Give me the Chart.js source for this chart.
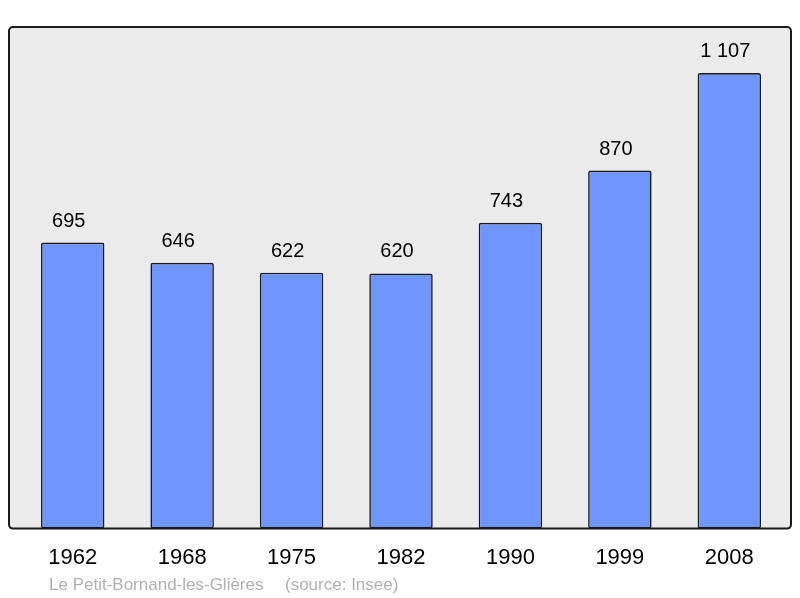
<!DOCTYPE html>
<html>
<head>
<meta charset="utf-8">
<script src="https://cdn.jsdelivr.net/npm/chart.js@4"></script>
<style>
  html, body { margin: 0; padding: 0; background: #fff; }
  #wrap { width: 800px; height: 598px; }
</style>
</head>
<body>
<div id="wrap"><canvas id="popChart" width="800" height="598"></canvas></div>
<script>
const years = ['1962', '1968', '1975', '1982', '1990', '1999', '2008'];
const population = [695, 646, 622, 620, 743, 870, 1107];
const communeName = 'Le Petit-Bornand-les-Glières';
const sourceNote = '(source: Insee)';

function fmt(n) {
    return String(n).replace(/\B(?=(\d{3})+(?!\d))/g, ' ');
}

// grey frame behind the bars
const framePlugin = {
    id: 'frame',
    beforeDatasetsDraw(chart) {
        const { ctx, chartArea } = chart;
        const x = chartArea.left - 9, y = chartArea.top;
        const w = chartArea.right + 7 - x, h = chartArea.bottom - y;
        ctx.save();
        ctx.beginPath();
        ctx.roundRect(x, y, w, h, 4);
        ctx.fillStyle = '#ebebeb';
        ctx.fill();
        ctx.restore();
    },
    afterDatasetsDraw(chart) {
        const { ctx, chartArea } = chart;
        const x = chartArea.left - 9, y = chartArea.top;
        const w = chartArea.right + 7 - x, h = chartArea.bottom - y;
        ctx.save();
        ctx.beginPath();
        ctx.roundRect(x, y, w, h, 4);
        ctx.lineWidth = 2;
        ctx.strokeStyle = '#1a1a1a';
        ctx.stroke();

        // values above bars
        const meta = chart.getDatasetMeta(0);
        ctx.fillStyle = '#000';
        ctx.font = '20px "Liberation Sans", Arial, sans-serif';
        ctx.textAlign = 'center';
        ctx.textBaseline = 'alphabetic';
        meta.data.forEach((bar, i) => {
            ctx.fillText(fmt(population[i]), bar.x - 4, bar.y - 16);
        });

        // source line
        ctx.fillStyle = '#b0b0b0';
        ctx.font = '17px "Liberation Sans", Arial, sans-serif';
        ctx.textAlign = 'left';
        ctx.fillText(communeName, 49, 590);
        ctx.fillText(sourceNote, 285, 590);
        ctx.restore();
    }
};

const ctx = document.getElementById('popChart').getContext('2d');
new Chart(ctx, {
    type: 'bar',
    data: {
        labels: years,
        datasets: [{
            data: population,
            backgroundColor: '#6f96ff',
            borderColor: '#1a1a1a',
            borderWidth: 1.6,
            borderSkipped: false,
            borderRadius: 2,
            barPercentage: 0.58,
            categoryPercentage: 1
        }]
    },
    options: {
        responsive: false,
        animation: false,
        layout: { padding: { top: 27, left: 18, right: 16, bottom: 19 } },
        scales: {
            x: {
                grid: { display: false },
                border: { display: false },
                ticks: {
                    color: '#000',
                    font: { size: 22, family: '"Liberation Sans", Arial, sans-serif' },
                    padding: 8,
                    maxRotation: 0
                }
            },
            y: {
                display: false,
                min: 0,
                max: 1219
            }
        },
        plugins: {
            legend: { display: false },
            tooltip: { enabled: false }
        }
    },
    plugins: [framePlugin]
});
</script>
</body>
</html>
